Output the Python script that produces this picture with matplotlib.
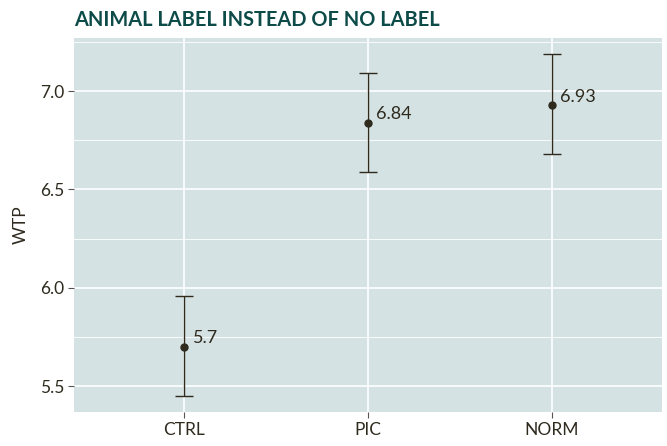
import matplotlib
matplotlib.use("Agg")
import matplotlib.pyplot as plt
import numpy as np

groups = ["CTRL", "PIC", "NORM"]
means = [5.7, 6.84, 6.93]
lower = [5.45, 6.59, 6.68]
upper = [5.96, 7.09, 7.19]

plt.rcParams['font.family'] = ['Lato', 'DejaVu Sans']

fig = plt.figure(figsize=(6.67, 4.46), dpi=100)
ax = fig.add_axes([0.111, 0.0762, 0.8815, 0.8386])
ax.set_facecolor("#d5e2e3")

x = np.arange(1, len(groups) + 1)
m = np.array(means)
err = [m - np.array(lower), np.array(upper) - m]
ink = "#2e2a1e"
ax.errorbar(x, m, yerr=err, fmt="o", color=ink, ms=5, elinewidth=1.0,
            capsize=6.5, capthick=1.0, zorder=3)
for xi, mi in zip(x, means):
    ax.annotate(f"{mi:g}", (xi, mi), xytext=(6, 6), textcoords="offset points",
                ha="left", va="center", fontsize=13, color=ink)

ax.set_xlim(0.4, 3.6)
ax.set_ylim(5.368, 7.27)
ax.set_xticks(x)
ax.set_xticklabels(groups)
ax.set_yticks([5.5, 6.0, 6.5, 7.0])
ax.set_yticklabels(["5.5", "6.0", "6.5", "7.0"])
ax.set_yticks([5.75, 6.25, 6.75, 7.25], minor=True)
ax.grid(True, which="major", color="white", linewidth=1.2)
ax.grid(True, which="minor", axis="y", color="white", linewidth=0.6)
ax.set_axisbelow(True)
for s in ax.spines.values():
    s.set_visible(False)
ax.tick_params(axis="both", which="major", length=4, color="#555555",
               labelsize=12.5, labelcolor=ink, pad=3)
ax.tick_params(axis="y", which="minor", length=0)
ax.set_ylabel("WTP", fontsize=12.5, color=ink, labelpad=8)

fig.text(0.111, 0.955, "ANIMAL LABEL INSTEAD OF NO LABEL", fontsize=14.4,
         fontweight="bold", color="#0d4b49", ha="left", va="center")

fig.savefig("out.png", dpi=100)
